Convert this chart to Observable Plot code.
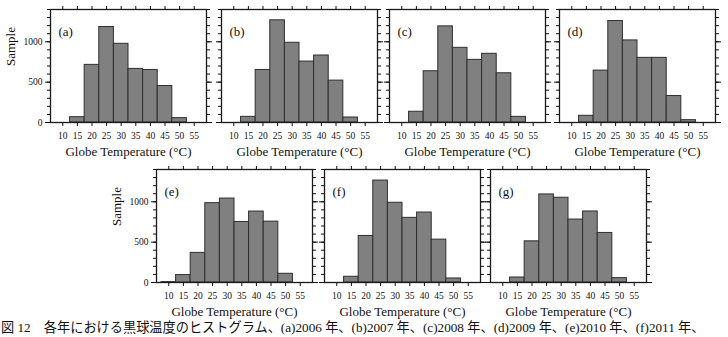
<!DOCTYPE html>
<html>
<head>
<meta charset="utf-8">
<script src="https://cdn.jsdelivr.net/npm/d3@7"></script>
<script src="https://cdn.jsdelivr.net/npm/@observablehq/plot@0.6"></script>
<style>
  html, body { margin: 0; padding: 0; background: #fff; }
  #wrap { position: relative; width: 728px; height: 337px; overflow: hidden; background: #fff; }
  .panel { position: absolute; }
  #caption { position: absolute; left: 1px; top: 320px; white-space: nowrap; line-height: 15px;
    font-family: "Liberation Serif", "Noto Sans CJK JP", serif; font-size: 13.2px; color: #111; }
</style>
</head>
<body>
<div id="wrap"><div id="caption"></div></div>
<script>
// Bin centres (°C) and tick labels
const bins = [10, 15, 20, 25, 30, 35, 40, 45, 50, 55];
const xTicks = [10, 15, 20, 25, 30, 35, 40, 45, 50, 55];
const yTicks = [0, 500, 1000];

// Sample counts per bin, per year
const y2006 = [0, 66, 714, 1183, 975, 664, 651, 452, 54, 0];
const y2007 = [0, 70, 651, 1266, 988, 755, 830, 519, 62, 0];
const y2008 = [0, 133, 635, 1191, 925, 776, 851, 610, 70, 0];
const y2009 = [0, 83, 643, 1257, 1017, 801, 801, 328, 29, 0];
const y2010 = [5, 92, 367, 983, 1040, 750, 879, 754, 108, 0];
const y2011 = [0, 71, 577, 1263, 988, 801, 867, 531, 50, 0];
const y2012 = [0, 62, 510, 1091, 1050, 780, 880, 614, 54, 0];

const panelLabels = ["(a)", "(b)", "(c)", "(d)", "(e)", "(f)", "(g)"];
const xTitle = "Globe Temperature (°C)";
const yTitle = "Sample";
const captionText = "図 12　各年における黒球温度のヒストグラム、(a)2006 年、(b)2007 年、(c)2008 年、(d)2009 年、(e)2010 年、(f)2011 年、";

const series = [y2006, y2007, y2008, y2009, y2010, y2011, y2012];
// frame positions (left, top) of each panel in the page
const layout = [
  [50, 9, true], [221, 9, false], [389, 9, false], [559, 9, false],
  [156, 169, true], [324, 169, false], [490, 169, false]
];

const PW = 156, PH = 113;
const ML = 50, MR = 12, MT = 10, MB = 42;
const wrap = document.getElementById("wrap");

series.forEach((vals, k) => {
  const [px, py, showY] = layout[k];
  const marks = [
    Plot.rect(bins, {
      x1: d => d - 2.5, x2: d => d + 2.5,
      y1: 0, y2: (d, i) => vals[i],
      fill: "#808080", stroke: "#2e2e2e", strokeWidth: 1
    }),
    Plot.frame({stroke: "#1a1a1a", strokeWidth: 1.3}),
    Plot.axisX({anchor: "bottom", ticks: xTicks, tickSize: 4, tickPadding: 6, fontSize: 9.5, label: null}),
    Plot.axisX({anchor: "top", ticks: xTicks, tickSize: 4, tickFormat: () => "", label: null}),
    Plot.axisY({anchor: "left", ticks: yTicks, tickSize: 5, tickPadding: 3, fontSize: 9.5,
      tickFormat: showY ? d3.format("d") : () => "", label: null}),
    Plot.axisY({anchor: "left", ticks: d3.range(0, 1401, 100), tickSize: 3, tickFormat: () => "", label: null}),
    Plot.axisY({anchor: "right", ticks: yTicks, tickSize: 5, tickFormat: () => "", label: null}),
    Plot.axisY({anchor: "right", ticks: d3.range(0, 1401, 100), tickSize: 3, tickFormat: () => "", label: null}),
    Plot.text([panelLabels[k]], {frameAnchor: "top-left", dx: 8, dy: 17, fontSize: 13, textAnchor: "start"}),
    Plot.text([xTitle], {frameAnchor: "bottom", dy: 33, fontSize: 13})
  ];
  if (showY) {
    marks.push(Plot.text([yTitle], {frameAnchor: "left", rotate: -90, dx: -40, fontSize: 13}));
  }
  const chart = Plot.plot({
    width: PW + ML + MR,
    height: PH + MT + MB,
    marginLeft: ML, marginRight: MR, marginTop: MT, marginBottom: MB,
    x: {domain: [5.8, 59.2]},
    y: {domain: [0, 1400]},
    style: {fontFamily: "Liberation Serif, serif", fontSize: "10px", background: "transparent", color: "#111", overflow: "visible"},
    marks
  });
  chart.classList.add("panel");
  chart.style.left = (px - ML) + "px";
  chart.style.top = (py - MT) + "px";
  wrap.appendChild(chart);
});

document.getElementById("caption").textContent = captionText;
</script>
</body>
</html>
